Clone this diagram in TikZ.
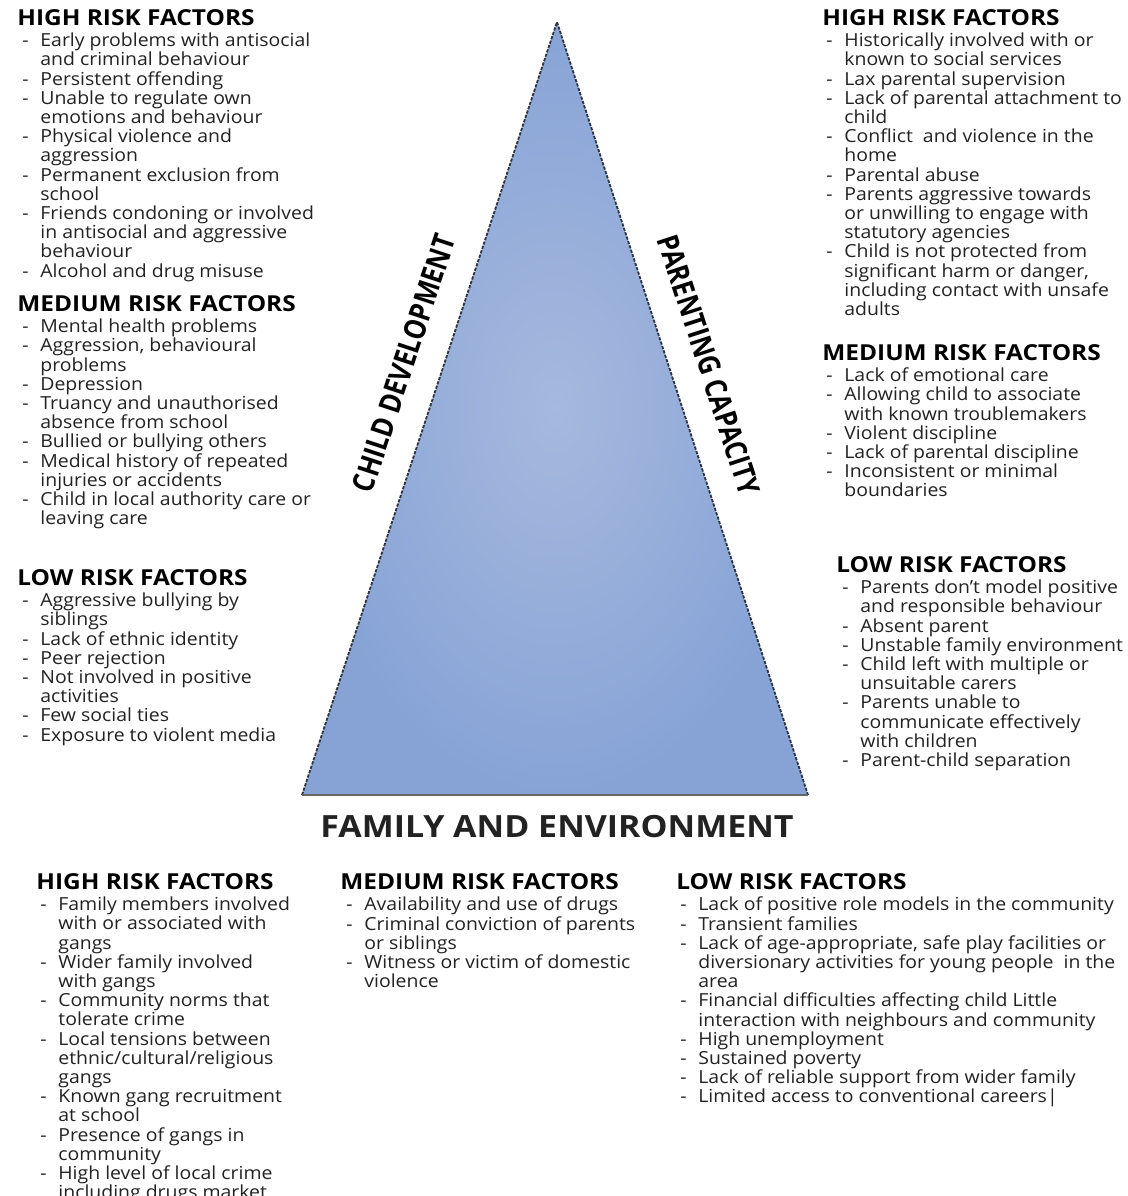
\documentclass[tikz,border=0pt]{standalone}
\usepackage{fontspec}
\setmainfont{Open Sans}
\newfontfamily\headfont[FakeStretch=1.11]{Open Sans}
\newfontfamily\bodyfont[FakeStretch=1.08, Ligatures=TeX]{Open Sans}
\usepackage{graphicx}
\usetikzlibrary{positioning}

\definecolor{triin}{HTML}{A6B9DE}
\definecolor{triout}{HTML}{87A3D6}
\definecolor{triedge}{HTML}{2E3440}
\definecolor{txt}{HTML}{222222}

\tikzset{
  riskhead/.style={anchor=base west, inner sep=0pt, text=black,
    font=\headfont\fontsize{11}{12}\selectfont\bfseries},
  risklist/.style={inner sep=0pt, align=left, text=txt,
    font=\bodyfont\fontsize{9}{9.6}\selectfont},
  sidelabel/.style={inner sep=0pt, text=black,
    font=\fontsize{15}{15}\selectfont\bfseries},
}
\newcommand{\rk}{\makebox[9pt][l]{-}}
\newcommand{\rc}{\hspace*{9pt}}

\begin{document}
\begin{tikzpicture}[x=0.5pt, y=-0.5pt]
    \useasboundingbox[fill=white] (0,0) rectangle (1128,1196);
    \clip (0,0) rectangle (1128,1196);

    % Triangle
    \coordinate (apex) at (557,22);
    \coordinate (bl) at (302,795);
    \coordinate (br) at (808,795);
    \shade[inner color=triin, outer color=triout] (apex) -- (bl) -- (br) -- cycle;
    \draw[triedge, line width=0.9pt, dash pattern=on 1.6pt off 0.7pt] (bl) -- (apex) -- (br);
    \draw[gray!80!black, line width=1pt] (bl) -- (br);

    \node[sidelabel, rotate=71.7] (cdlabel) at (404,363) {\scalebox{0.84}[1]{CHILD DEVELOPMENT}};
    \node[sidelabel, rotate=-72] (pclabel) at (709,365) {\scalebox{0.84}[1]{PARENTING CAPACITY}};
    \node[inner sep=0pt, font=\headfont\fontsize{15.3}{16}\selectfont\bfseries, text=txt] (felabel) at (557,827) {FAMILY AND ENVIRONMENT};

    % Child development
    \node[riskhead] (cdhigh) at (17,25) {HIGH RISK FACTORS};
    \node[risklist, below right=3.5pt and 2.5pt of cdhigh.south west] (cdhighlist) {%
      \rk Early problems with antisocial\\ \rc and criminal behaviour\\
      \rk Persistent offending\\
      \rk Unable to regulate own\\ \rc emotions and behaviour\\
      \rk Physical violence and\\ \rc aggression\\
      \rk Permanent exclusion from\\ \rc school\\
      \rk Friends condoning or involved\\ \rc in antisocial and aggressive\\ \rc behaviour\\
      \rk Alcohol and drug misuse};
    \node[riskhead] (cdmed) at (17,311) {MEDIUM RISK FACTORS};
    \node[risklist, below right=3.5pt and 2.5pt of cdmed.south west] (cdmedlist) {%
      \rk Mental health problems\\
      \rk Aggression, behavioural\\ \rc problems\\
      \rk Depression\\
      \rk Truancy and unauthorised\\ \rc absence from school\\
      \rk Bullied or bullying others\\
      \rk Medical history of repeated\\ \rc injuries or accidents\\
      \rk Child in local authority care or\\ \rc leaving care};
    \node[riskhead] (cdlow) at (17,585) {LOW RISK FACTORS};
    \node[risklist, below right=3.5pt and 2.5pt of cdlow.south west] (cdlowlist) {%
      \rk Aggressive bullying by\\ \rc siblings\\
      \rk Lack of ethnic identity\\
      \rk Peer rejection\\
      \rk Not involved in positive\\ \rc activities\\
      \rk Few social ties\\
      \rk Exposure to violent media};

    % Parenting capacity
    \node[riskhead] (pchigh) at (822,25) {HIGH RISK FACTORS};
    \node[risklist, below right=3.5pt and 2pt of pchigh.south west] (pchighlist) {%
      \rk Historically involved with or\\ \rc known to social services\\
      \rk Lax parental supervision\\
      \rk Lack of parental attachment to\\ \rc child\\
      \rk Conflict\ \ and violence in the\\ \rc home\\
      \rk Parental abuse\\
      \rk Parents aggressive towards\\ \rc or unwilling to engage with\\ \rc statutory agencies\\
      \rk Child is not protected from\\ \rc significant harm or danger,\\ \rc including contact with unsafe\\ \rc adults};
    \node[riskhead] (pcmed) at (822,360) {MEDIUM RISK FACTORS};
    \node[risklist, below right=3.5pt and 2pt of pcmed.south west] (pcmedlist) {%
      \rk Lack of emotional care\\
      \rk Allowing child to associate\\ \rc with known troublemakers\\
      \rk Violent discipline\\
      \rk Lack of parental discipline\\
      \rk Inconsistent or minimal\\ \rc boundaries};
    \node[riskhead] (pclow) at (836,572) {LOW RISK FACTORS};
    \node[risklist, below right=3.5pt and 3pt of pclow.south west] (pclowlist) {%
      \rk Parents don’t model positive\\ \rc and responsible behaviour\\
      \rk Absent parent\\
      \rk Unstable family environment\\
      \rk Child left with multiple or\\ \rc unsuitable carers\\
      \rk Parents unable to\\ \rc communicate effectively\\ \rc with children\\
      \rk Parent-child separation};

    % Family and environment
    \node[riskhead] (fehigh) at (36,889) {HIGH RISK FACTORS};
    \node[risklist, below right=3.5pt and 2pt of fehigh.south west] (fehighlist) {%
      \rk Family members involved\\ \rc with or associated with\\ \rc gangs\\
      \rk Wider family involved\\ \rc with gangs\\
      \rk Community norms that\\ \rc tolerate crime\\
      \rk Local tensions between\\ \rc ethnic/cultural/religious\\ \rc gangs\\
      \rk Known gang recruitment\\ \rc at school\\
      \rk Presence of gangs in\\ \rc community\\
      \rk High level of local crime\\ \rc including drugs market};
    \node[riskhead] (femed) at (340,889) {MEDIUM RISK FACTORS};
    \node[risklist, below right=3.5pt and 3pt of femed.south west] (femedlist) {%
      \rk Availability and use of drugs\\
      \rk Criminal conviction of parents\\ \rc or siblings\\
      \rk Witness or victim of domestic\\ \rc violence};
    \node[riskhead] (felow) at (676,889) {LOW RISK FACTORS};
    \node[risklist, below right=3.5pt and 2pt of felow.south west] (felowlist) {%
      \rk Lack of positive role models in the community\\
      \rk Transient families\\
      \rk Lack of age-appropriate, safe play facilities or\\ \rc diversionary activities for young people\ \ in the\\ \rc area\\
      \rk Financial difficulties affecting child Little\\ \rc interaction with neighbours and community\\
      \rk High unemployment\\
      \rk Sustained poverty\\
      \rk Lack of reliable support from wider family\\
      \rk Limited access to conventional careers|};
\end{tikzpicture}
\end{document}
